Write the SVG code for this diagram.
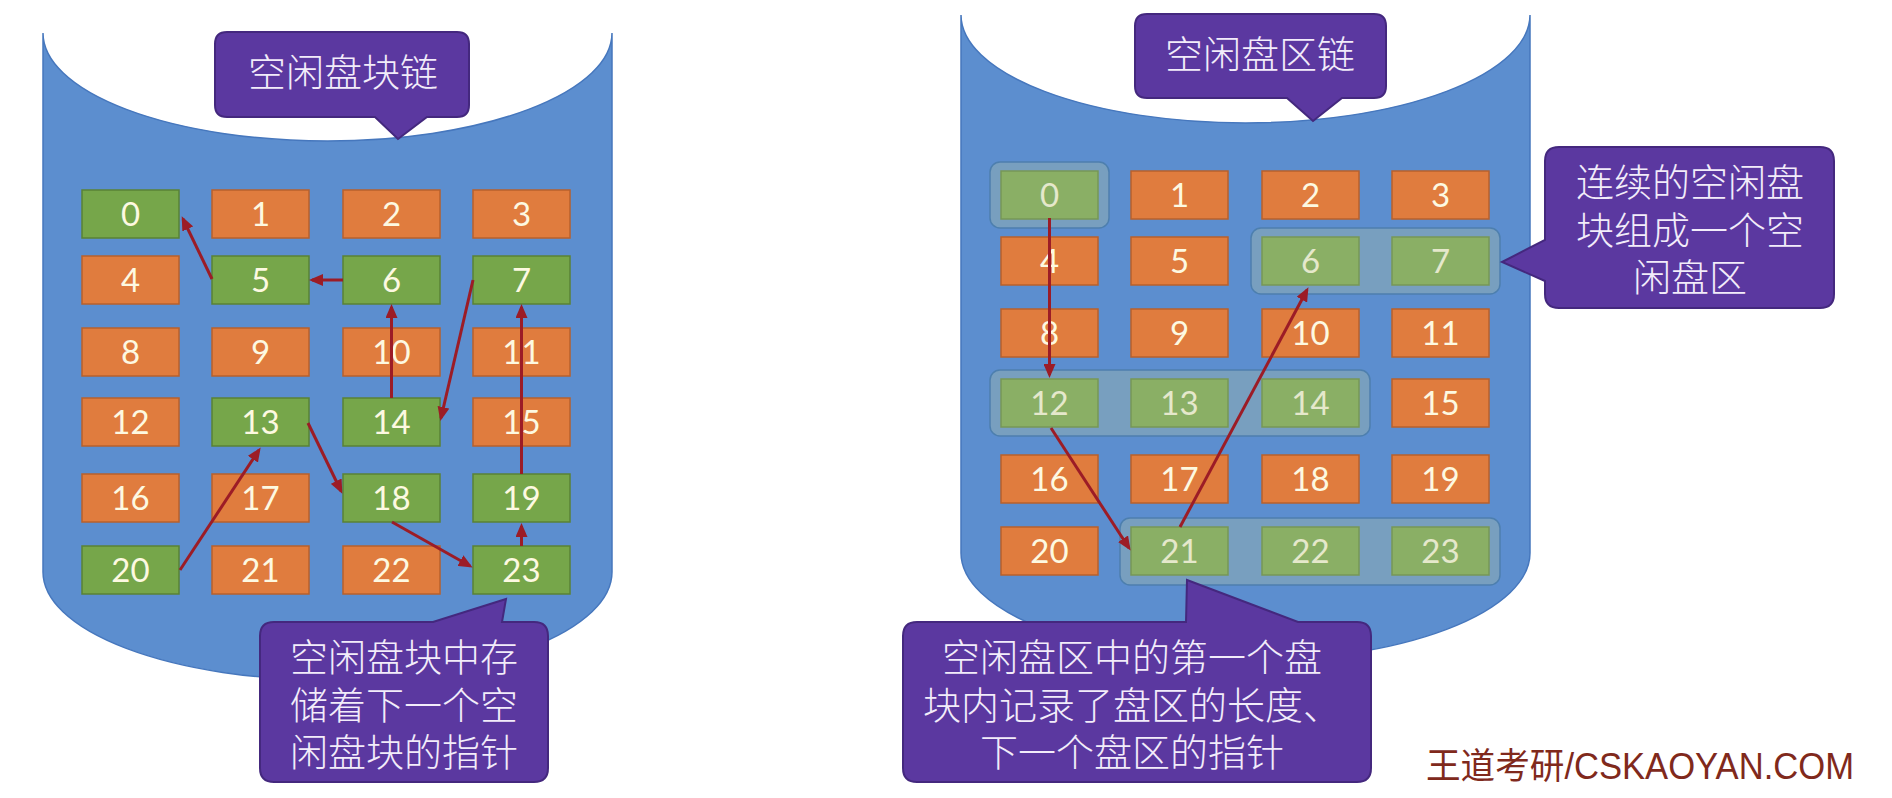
<svg xmlns="http://www.w3.org/2000/svg" width="1892" height="798" viewBox="0 0 1892 798">
<style>
.cyl{fill:#5c8ecf;stroke:#4677bd;stroke-width:1.5}
.g{fill:#76a64a;stroke:#5a8236;stroke-width:1.5}
.o{fill:#e07c3e;stroke:#b8602c;stroke-width:1.5}
.num{font-family:Lato,"Liberation Sans",sans-serif;font-size:33px;fill:#fdf9e1;text-anchor:middle}
.call{fill:#5b38a0;stroke:#44287e;stroke-width:2}
.cjk{font-family:"Noto Sans CJK SC",sans-serif;font-size:38px;font-weight:300;fill:#f2ecfa;text-anchor:middle}
.reg{fill:#b4c3a0;fill-opacity:0.32;stroke:#4d7fae;stroke-width:1.5}
.arr{stroke:#9c1c26;stroke-width:3;fill:none;marker-end:url(#ah)}
.wm{font-family:"Liberation Sans","Noto Sans CJK SC",sans-serif;font-size:36px;fill:#80291c}
</style>
<defs>
<marker id="ah" markerWidth="14" markerHeight="12" refX="11" refY="6" orient="auto" markerUnits="userSpaceOnUse">
<path d="M0,0 L14,6 L0,12 Z" fill="#9c1c26"/>
</marker>
</defs>
<rect width="1892" height="798" fill="#ffffff"/>

<!-- Left panel: free block chain -->
<g id="cylinder-left">
<path class="cyl" d="M43,33 L43,572 A284.5,108 0 0 0 612,572 L612,33 A284.5,108 0 0 1 43,33 Z"/>
</g>
<g id="L-blocks">
<g id="L0"><rect class="g" x="82" y="190" width="97" height="48"/><text class="num" x="130.5" y="226">0</text></g>
<g id="L1"><rect class="o" x="212" y="190" width="97" height="48"/><text class="num" x="260.5" y="226">1</text></g>
<g id="L2"><rect class="o" x="343" y="190" width="97" height="48"/><text class="num" x="391.5" y="226">2</text></g>
<g id="L3"><rect class="o" x="473" y="190" width="97" height="48"/><text class="num" x="521.5" y="226">3</text></g>
<g id="L4"><rect class="o" x="82" y="256" width="97" height="48"/><text class="num" x="130.5" y="292">4</text></g>
<g id="L5"><rect class="g" x="212" y="256" width="97" height="48"/><text class="num" x="260.5" y="292">5</text></g>
<g id="L6"><rect class="g" x="343" y="256" width="97" height="48"/><text class="num" x="391.5" y="292">6</text></g>
<g id="L7"><rect class="g" x="473" y="256" width="97" height="48"/><text class="num" x="521.5" y="292">7</text></g>
<g id="L8"><rect class="o" x="82" y="328" width="97" height="48"/><text class="num" x="130.5" y="364">8</text></g>
<g id="L9"><rect class="o" x="212" y="328" width="97" height="48"/><text class="num" x="260.5" y="364">9</text></g>
<g id="L10"><rect class="o" x="343" y="328" width="97" height="48"/><text class="num" x="391.5" y="364">10</text></g>
<g id="L11"><rect class="o" x="473" y="328" width="97" height="48"/><text class="num" x="521.5" y="364">11</text></g>
<g id="L12"><rect class="o" x="82" y="398" width="97" height="48"/><text class="num" x="130.5" y="434">12</text></g>
<g id="L13"><rect class="g" x="212" y="398" width="97" height="48"/><text class="num" x="260.5" y="434">13</text></g>
<g id="L14"><rect class="g" x="343" y="398" width="97" height="48"/><text class="num" x="391.5" y="434">14</text></g>
<g id="L15"><rect class="o" x="473" y="398" width="97" height="48"/><text class="num" x="521.5" y="434">15</text></g>
<g id="L16"><rect class="o" x="82" y="474" width="97" height="48"/><text class="num" x="130.5" y="510">16</text></g>
<g id="L17"><rect class="o" x="212" y="474" width="97" height="48"/><text class="num" x="260.5" y="510">17</text></g>
<g id="L18"><rect class="g" x="343" y="474" width="97" height="48"/><text class="num" x="391.5" y="510">18</text></g>
<g id="L19"><rect class="g" x="473" y="474" width="97" height="48"/><text class="num" x="521.5" y="510">19</text></g>
<g id="L20"><rect class="g" x="82" y="546" width="97" height="48"/><text class="num" x="130.5" y="582">20</text></g>
<g id="L21"><rect class="o" x="212" y="546" width="97" height="48"/><text class="num" x="260.5" y="582">21</text></g>
<g id="L22"><rect class="o" x="343" y="546" width="97" height="48"/><text class="num" x="391.5" y="582">22</text></g>
<g id="L23"><rect class="g" x="473" y="546" width="97" height="48"/><text class="num" x="521.5" y="582">23</text></g>
</g>

<!-- Right panel: free region chain -->
<g id="cylinder-right">
<path class="cyl" d="M961,15 L961,553 A284.5,108 0 0 0 1530,553 L1530,15 A284.5,108 0 0 1 961,15 Z"/>
</g>
<g id="R-blocks">
<g id="R0"><rect class="g" x="1001" y="171" width="97" height="48"/><text class="num" x="1049.5" y="207">0</text></g>
<g id="R1"><rect class="o" x="1131" y="171" width="97" height="48"/><text class="num" x="1179.5" y="207">1</text></g>
<g id="R2"><rect class="o" x="1262" y="171" width="97" height="48"/><text class="num" x="1310.5" y="207">2</text></g>
<g id="R3"><rect class="o" x="1392" y="171" width="97" height="48"/><text class="num" x="1440.5" y="207">3</text></g>
<g id="R4"><rect class="o" x="1001" y="237" width="97" height="48"/><text class="num" x="1049.5" y="273">4</text></g>
<g id="R5"><rect class="o" x="1131" y="237" width="97" height="48"/><text class="num" x="1179.5" y="273">5</text></g>
<g id="R6"><rect class="g" x="1262" y="237" width="97" height="48"/><text class="num" x="1310.5" y="273">6</text></g>
<g id="R7"><rect class="g" x="1392" y="237" width="97" height="48"/><text class="num" x="1440.5" y="273">7</text></g>
<g id="R8"><rect class="o" x="1001" y="309" width="97" height="48"/><text class="num" x="1049.5" y="345">8</text></g>
<g id="R9"><rect class="o" x="1131" y="309" width="97" height="48"/><text class="num" x="1179.5" y="345">9</text></g>
<g id="R10"><rect class="o" x="1262" y="309" width="97" height="48"/><text class="num" x="1310.5" y="345">10</text></g>
<g id="R11"><rect class="o" x="1392" y="309" width="97" height="48"/><text class="num" x="1440.5" y="345">11</text></g>
<g id="R12"><rect class="g" x="1001" y="379" width="97" height="48"/><text class="num" x="1049.5" y="415">12</text></g>
<g id="R13"><rect class="g" x="1131" y="379" width="97" height="48"/><text class="num" x="1179.5" y="415">13</text></g>
<g id="R14"><rect class="g" x="1262" y="379" width="97" height="48"/><text class="num" x="1310.5" y="415">14</text></g>
<g id="R15"><rect class="o" x="1392" y="379" width="97" height="48"/><text class="num" x="1440.5" y="415">15</text></g>
<g id="R16"><rect class="o" x="1001" y="455" width="97" height="48"/><text class="num" x="1049.5" y="491">16</text></g>
<g id="R17"><rect class="o" x="1131" y="455" width="97" height="48"/><text class="num" x="1179.5" y="491">17</text></g>
<g id="R18"><rect class="o" x="1262" y="455" width="97" height="48"/><text class="num" x="1310.5" y="491">18</text></g>
<g id="R19"><rect class="o" x="1392" y="455" width="97" height="48"/><text class="num" x="1440.5" y="491">19</text></g>
<g id="R20"><rect class="o" x="1001" y="527" width="97" height="48"/><text class="num" x="1049.5" y="563">20</text></g>
<g id="R21"><rect class="g" x="1131" y="527" width="97" height="48"/><text class="num" x="1179.5" y="563">21</text></g>
<g id="R22"><rect class="g" x="1262" y="527" width="97" height="48"/><text class="num" x="1310.5" y="563">22</text></g>
<g id="R23"><rect class="g" x="1392" y="527" width="97" height="48"/><text class="num" x="1440.5" y="563">23</text></g>
</g>
<g id="regions">
<rect id="region-0" class="reg" x="990" y="162" width="119" height="66" rx="10"/>
<rect id="region-6-7" class="reg" x="1251" y="228" width="249" height="66" rx="10"/>
<rect id="region-12-14" class="reg" x="990" y="370" width="380" height="66" rx="10"/>
<rect id="region-21-23" class="reg" x="1120" y="518" width="380" height="67" rx="10"/>
</g>

<g id="connectors">
<line class="arr" x1="212" y1="279" x2="183" y2="219"/>
<line class="arr" x1="343" y1="280" x2="312" y2="280"/>
<line class="arr" x1="391.5" y1="398" x2="391.5" y2="307"/>
<line class="arr" x1="473" y1="280" x2="441" y2="418"/>
<line class="arr" x1="521.5" y1="474" x2="521.5" y2="307"/>
<line class="arr" x1="521.5" y1="546" x2="521.5" y2="526"/>
<line class="arr" x1="392" y1="522" x2="470" y2="566"/>
<line class="arr" x1="308" y1="423" x2="341" y2="491"/>
<line class="arr" x1="180" y1="570" x2="259" y2="450"/>
<line class="arr" x1="1049.5" y1="218" x2="1049.5" y2="375"/>
<line class="arr" x1="1051" y1="428" x2="1129" y2="548"/>
<line class="arr" x1="1180" y1="527" x2="1307" y2="290"/>
</g>

<g id="callout-left-top">
<path class="call" d="M227,32 H457 Q469,32 469,44 V105 Q469,117 457,117 H427 L398,139 L375,117 H227 Q215,117 215,105 V44 Q215,32 227,32 Z"/>
<text class="cjk" x="343" y="86">空闲盘块链</text>
</g>
<g id="callout-left-bottom">
<path class="call" d="M274,622 H433 L506,599 L502,622 H534 Q548,622 548,636 V768 Q548,782 534,782 H274 Q260,782 260,768 V636 Q260,622 274,622 Z"/>
<text class="cjk" x="404" y="671"><tspan x="404">空闲盘块中存</tspan><tspan x="404" dy="47.5">储着下一个空</tspan><tspan x="404" dy="47.5">闲盘块的指针</tspan></text>
</g>
<g id="callout-right-top">
<path class="call" d="M1147,14 H1374 Q1386,14 1386,26 V86 Q1386,98 1374,98 H1342 L1313,121 L1287,98 H1147 Q1135,98 1135,86 V26 Q1135,14 1147,14 Z"/>
<text class="cjk" x="1260" y="67.5">空闲盘区链</text>
</g>
<g id="callout-right-side">
<path class="call" d="M1559,147 H1820 Q1834,147 1834,161 V294 Q1834,308 1820,308 H1559 Q1545,308 1545,294 V281 L1502,262 L1545,240 V161 Q1545,147 1559,147 Z"/>
<text class="cjk" x="1690" y="196"><tspan x="1690">连续的空闲盘</tspan><tspan x="1690" dy="47.5">块组成一个空</tspan><tspan x="1690" dy="47.5">闲盘区</tspan></text>
</g>
<g id="callout-right-bottom">
<path class="call" d="M917,622 H1186 L1187,580 L1298,622 H1357 Q1371,622 1371,636 V768 Q1371,782 1357,782 H917 Q903,782 903,768 V636 Q903,622 917,622 Z"/>
<text class="cjk" x="1132" y="671"><tspan x="1132">空闲盘区中的第一个盘</tspan><tspan x="1132" dy="47.5">块内记录了盘区的长度、</tspan><tspan x="1132" dy="47.5">下一个盘区的指针</tspan></text>
</g>
<g id="watermark">
<text class="wm" x="1426" y="779" textLength="428" lengthAdjust="spacingAndGlyphs">王道考研/CSKAOYAN.COM</text>
</g>
</svg>
